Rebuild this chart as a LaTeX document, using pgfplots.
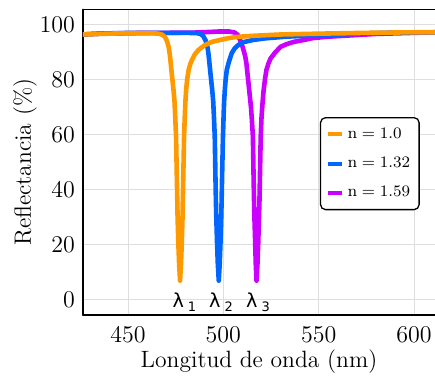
\documentclass[border=0pt]{standalone}
\usepackage{fontspec}
\usepackage{pgfplots}
\pgfplotsset{compat=1.18}
\newfontfamily\dejavu{DejaVu Sans}
\definecolor{corange}{RGB}{255,153,0}
\definecolor{cblue}{RGB}{0,102,255}
\definecolor{cmag}{RGB}{204,0,255}
\definecolor{cgrid}{RGB}{222,222,222}

\pgfplotstableread{
x y
426 96.5
435 96.7
445 96.9
455 97.0
462 97.0
466 96.8
468 96.4
469.5 95.5
470.5 94.0
471.3 92.0
471.8 89.8
472.2 87.5
472.7 84
473.3 80
473.9 76
474.4 72
474.8 66
475.2 59.3
475.6 45
475.85 36
476.0 30
476.4 20.6
476.8 13
477.3 6.8
477.8 13
478.2 20.6
478.6 30
478.75 36
479.0 45
479.4 59.3
479.75 66
480.1 72
480.5 76.5
481.0 80
481.8 83.6
482.7 85.8
483.6 87.3
485.0 89.2
487.0 90.9
490.0 92.5
494.0 93.8
498.3 94.5
503 95.2
507 95.6
515 96.0
530 96.5
550 96.8
575 97.1
600 97.3
611 97.3
}\orangedata

\pgfplotstableread{
x y
426 96.5
435 96.8
445 97.0
460 97.1
480 97.1
486 97.0
488 96.7
489.5 95.9
490.7 94.3
491.6 92.2
492.1 90.0
492.5 87.5
493.0 84
493.6 80
494.2 76
494.7 72
495.1 66
495.5 59.3
495.85 45
496.1 36
496.3 30
496.7 20.6
497.1 13
497.6 6.8
498.1 13
498.5 20.6
498.9 30
499.1 36
499.35 45
499.8 59.3
500.1 66
500.4 72
500.8 76.5
501.2 80
501.8 83.6
502.9 86.5
504.4 89.7
506.0 91.5
507.9 92.7
510.5 93.7
515.6 94.5
522 95.1
533 95.7
545 96.1
560 96.5
575 96.9
590 97.2
611 97.3
}\bluedata

\pgfplotstableread{
x y
426 96.5
435 96.8
450 97.0
470 97.1
485 97.2
492 97.4
498 97.6
503 97.6
506 97.2
507.5 96.4
508.8 94.5
510.0 92.2
510.8 90.3
511.5 88.5
512.1 86
512.7 82
513.3 78
513.9 74
514.5 70
515.0 65
515.5 59.3
515.85 45
516.1 36
516.3 30
516.7 20.6
517.0 13
517.4 6.8
517.9 13
518.3 20.6
518.7 30
518.95 36
519.2 45
519.6 59.3
520.0 66
520.5 71
521.1 76
521.8 80
522.6 83.6
523.7 86
524.8 87.8
527.1 89.9
530 92.0
533.2 93.0
537 93.8
542.9 94.6
547 95.2
555 95.7
565 96.1
580 96.7
600 97.1
611 97.3
}\magdata

\begin{document}
\begin{tikzpicture}
\useasboundingbox (-41.5pt,-31pt) rectangle (176pt,157.5pt);
\begin{axis}[
  at={(0,0)}, anchor=south west,
  scale only axis, width=176pt, height=152.75pt,
  xmin=426.4, xmax=611, ymin=-5.7, ymax=105.6,
  axis lines*=left,
  axis line style={line width=0.9pt, black},
  xtick={450,500,550,600}, ytick={0,20,40,60,80,100},
  major tick length=0pt,
  grid=major, major grid style={cgrid, line width=0.45pt},
  tick label style={font=\fontsize{11.6}{14}\selectfont},
  xticklabel style={yshift=-2.5pt},
  yticklabel style={xshift=-0.5pt},
  xlabel={Longitud de onda (nm)}, ylabel={Reflectancia (\%)},
  label style={font=\fontsize{11.8}{14}\selectfont},
  xlabel style={at={(axis description cs:0.5,-0.154)}, anchor=center},
  ylabel style={at={(axis description cs:-0.165,0.5)}, anchor=center},
  legend style={at={(axis description cs:0.673,0.648)}, anchor=north west,
    draw=black, line width=0.65pt, rounded corners=2.5pt,
    font=\fontsize{8.2}{9.5}\selectfont, row sep=4pt, inner xsep=2.5pt, inner ysep=3pt},
  legend cell align=left,
  legend image code/.code={\draw[#1, line width=2pt] (0pt,0pt) -- (7pt,0pt);},
  line join=round, line cap=round,
]
\addlegendimage{corange}
\addlegendentry{$\mathrm{n}=1.0$}
\addlegendimage{cblue}
\addlegendentry{$\mathrm{n}=1.32$}
\addlegendimage{cmag}
\addlegendentry{$\mathrm{n}=1.59$}
\addplot[cmag, line width=2.3pt, forget plot] table[x=x,y=y] {\magdata};
\addplot[cblue, line width=2.3pt, forget plot] table[x=x,y=y] {\bluedata};
\addplot[corange, line width=2.3pt, forget plot] table[x=x,y=y] {\orangedata};
\draw[line width=0.9pt, black] (rel axis cs:0,1) -- (rel axis cs:1,1);
\node[font=\dejavu\fontsize{9.6}{11}\selectfont] at (axis cs:479.6,-1.2) {λ\hspace{2pt}\raisebox{-2pt}{\fontsize{6.5}{7}\selectfont 1}};
\node[font=\dejavu\fontsize{9.6}{11}\selectfont] at (axis cs:498.8,-1.2) {λ\hspace{2pt}\raisebox{-2pt}{\fontsize{6.5}{7}\selectfont 2}};
\node[font=\dejavu\fontsize{9.6}{11}\selectfont] at (axis cs:518.2,-1.2) {λ\hspace{2pt}\raisebox{-2pt}{\fontsize{6.5}{7}\selectfont 3}};
\end{axis}
\end{tikzpicture}
\end{document}
